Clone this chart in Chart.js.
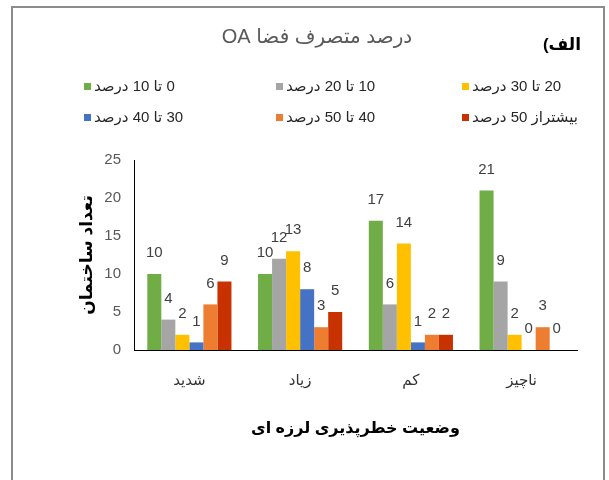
<!DOCTYPE html>
<html>
<head>
<meta charset="utf-8">
<script src="https://cdn.jsdelivr.net/npm/chart.js@4"></script>
<style>
  body { margin: 0; background: #fff; }
  #wrap { position: relative; width: 609px; height: 480px; overflow: hidden; }
  #frame { position: absolute; left: 11px; top: 6px; width: 594px; height: 520px; border: 2px solid #8c8c8c; box-sizing: border-box; pointer-events: none; }
</style>
</head>
<body>
<div id="wrap">
  <canvas id="chart" width="609" height="480"></canvas>
  <div id="frame"></div>
</div>
<script>
const categories = ["شدید", "زیاد", "کم", "ناچیز"];
const seriesNames = ["0 تا 10 درصد", "10 تا 20 درصد", "20 تا 30 درصد", "30 تا 40 درصد", "40 تا 50 درصد", "بیشتراز 50 درصد"];
const s0to10 = [10, 10, 17, 21];
const s10to20 = [4, 12, 6, 9];
const s20to30 = [2, 13, 14, 2];
const s30to40 = [1, 8, 1, 0];
const s40to50 = [6, 3, 2, 3];
const sOver50 = [9, 5, 2, 0];
const yTicks = [0, 5, 10, 15, 20, 25];

const colors = ["#70ad47", "#a5a5a5", "#ffc000", "#4472c4", "#ed7d31", "#c83200"];
const FONT = 'Arial, "Liberation Sans", "DejaVu Sans", sans-serif';

// title, panel mark, legend and value labels
const decorations = {
    id: "decorations",
    afterDatasetsDraw(chart) {
        const ctx = chart.ctx;
        ctx.save();
        ctx.textBaseline = "middle";
        ctx.direction = "rtl";

        ctx.fillStyle = "#000";
        ctx.font = "bold 17px " + FONT;
        ctx.textAlign = "right";
        ctx.fillText("الف)", 581, 45);

        ctx.fillStyle = "#595959";
        ctx.font = "20px " + FONT;
        ctx.textAlign = "center";
        ctx.fillText("درصد متصرف فضا OA", 317, 37);

        const colX = [84, 276, 462];
        const rowY = [87, 118];
        ctx.font = "15px " + FONT;
        ctx.textAlign = "left";
        chart.data.datasets.forEach((ds, i) => {
            const x = colX[i % 3];
            const y = rowY[Math.floor(i / 3)];
            ctx.fillStyle = ds.backgroundColor;
            ctx.fillRect(x, y - 4, 7, 7);
            ctx.fillStyle = "#262626";
            ctx.fillText(ds.label, x + 10, y);
        });

        ctx.font = "15px " + FONT;
        ctx.fillStyle = "#404040";
        ctx.textAlign = "center";
        chart.data.datasets.forEach((ds, i) => {
            chart.getDatasetMeta(i).data.forEach((bar, j) => {
                ctx.fillText(String(ds.data[j]), bar.x, bar.y - 21);
            });
        });
        ctx.restore();
    },
};

const seriesData = [s0to10, s10to20, s20to30, s30to40, s40to50, sOver50];

new Chart(document.getElementById("chart"), {
    type: "bar",
    data: {
        labels: categories,
        datasets: seriesData.map((values, i) => ({
            label: seriesNames[i],
            data: values,
            backgroundColor: colors[i],
            categoryPercentage: 0.76,
            barPercentage: 1.0,
        })),
    },
    options: {
        responsive: false,
        animation: false,
        layout: {
            padding: { top: 160, left: 77, right: 32, bottom: 42 },
        },
        plugins: {
            legend: { display: false },
            title: { display: false },
            tooltip: { enabled: false },
        },
        scales: {
            x: {
                grid: { display: false, drawTicks: false },
                border: { color: "#000", width: 1 },
                ticks: {
                    color: "#333",
                    font: { size: 15, family: FONT },
                    padding: 22,
                },
                title: {
                    display: true,
                    text: "وضعیت خطرپذیری لرزه ای",
                    color: "#000",
                    font: { size: 16, weight: "bold", family: FONT },
                    padding: { top: 0, bottom: 0 },
                },
                afterFit: (scale) => {
                    scale.height = 88;
                },
            },
            y: {
                min: 0,
                max: 25,
                grid: { display: false, drawTicks: false },
                border: { color: "#000", width: 1 },
                afterBuildTicks: (scale) => {
                    scale.ticks = yTicks.map((v) => ({ value: v }));
                },
                ticks: {
                    color: "#595959",
                    font: { size: 15, family: FONT },
                    padding: 13,
                },
                title: {
                    display: true,
                    text: "تعداد ساختمان",
                    color: "#000",
                    font: { size: 17, weight: "bold", family: FONT },
                    padding: { top: 0, bottom: 0 },
                },
                afterFit: (scale) => {
                    scale.width = 57;
                },
            },
        },
    },
    plugins: [decorations],
});
</script>
</body>
</html>
